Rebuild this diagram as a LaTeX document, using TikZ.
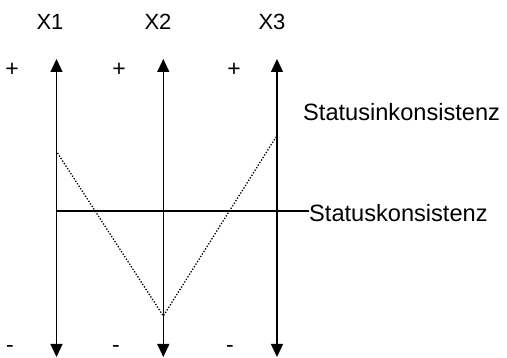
\documentclass[tikz,border=0pt]{standalone}
\usepackage{fontspec}
\setmainfont{Liberation Sans}
\usetikzlibrary{arrows.meta}
\begin{document}
\begin{tikzpicture}[x=1pt,y=-1pt,
  lbl/.style={inner sep=0pt,font=\fontsize{22}{26}\selectfont},
  sgn/.style={inner sep=0pt,font=\fontsize{23}{27}\selectfont},
  big/.style={inner sep=0pt,font=\fontsize{23.6}{28}\selectfont},
  axis/.style={line width=1.4pt,{Triangle[width=12pt,length=13pt]}-{Triangle[width=12pt,length=13pt]}},
  lvl/.style={line width=1.2pt},
  trace/.style={line width=1.3pt,dash pattern=on 1.3pt off 1.7pt}]
\useasboundingbox (0,0) rectangle (507,358);
% axis endpoints
\coordinate (t1) at (56.5,59);  \coordinate (b1) at (56.5,357);
\coordinate (t2) at (163.3,59); \coordinate (b2) at (163.3,357);
\coordinate (t3) at (277,59);   \coordinate (b3) at (277,357);
\draw[axis] (b1) -- (t1);
\draw[axis] (b2) -- (t2);
\draw[axis] (b3) -- (t3);
% labels
\node[lbl] (x1) at (50,22) {X1};
\node[lbl] (x2) at (158,22) {X2};
\node[lbl] (x3) at (272,22) {X3};
\node[sgn] (p1) at (12,70) {+};
\node[sgn] (p2) at (119,70) {+};
\node[sgn] (p3) at (234,70) {+};
\node[sgn] (m1) at (10,349) {-};
\node[sgn] (m2) at (116,349) {-};
\node[sgn] (m3) at (230,349) {-};
\node[big,anchor=west] (inc) at (303,112) {Statusinkonsistenz};
\node[big,anchor=west] (kon) at (309,213) {Statuskonsistenz};
% consistency level
\coordinate (k0) at (56.5,211);
\draw[lvl] (k0) -- (kon.west |- k0);
% inconsistent profile
\coordinate (d1) at (57.5,153);
\coordinate (d2) at (163.3,316);
\coordinate (d3) at (276,137);
\draw[trace] (d1) -- (d2) -- (d3);
\end{tikzpicture}
\end{document}
